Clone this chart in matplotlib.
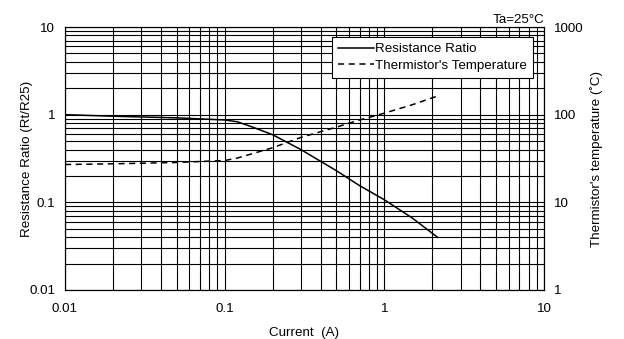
import matplotlib
matplotlib.use("Agg")
import matplotlib.pyplot as plt
from matplotlib.ticker import LogLocator, FixedLocator, NullFormatter, FixedFormatter

plt.rcParams["font.family"] = ["Liberation Sans", "DejaVu Sans"]
plt.rcParams["font.size"] = 9.6

# leitura do gráfico
corrente_r = [0.01, 0.02, 0.05, 0.1, 0.12, 0.15, 0.2, 0.3, 0.5, 0.7, 1.0, 1.5, 2.15]
razao_r = [1.0, 0.96, 0.92, 0.87, 0.83, 0.72, 0.59, 0.40, 0.23, 0.155, 0.107, 0.066, 0.04]

corrente_t = [0.01, 0.02, 0.05, 0.1, 0.12, 0.15, 0.2, 0.3, 0.5, 0.7, 1.0, 1.5, 2.15]
temp_t = [27, 27.5, 28.5, 30, 32, 36, 42, 55, 72, 87, 104, 130, 163]

fig = plt.figure(figsize=(6.24, 3.39), dpi=100)
ax = fig.add_axes([65 / 624, 1 - 290 / 339, (544 - 65) / 624, (290 - 27) / 339])

ax.plot(corrente_r, razao_r, color="black", lw=1.1, label="Resistance Ratio")
ax.set_xscale("log")
ax.set_yscale("log")
ax.set_xlim(0.01, 10)
ax.set_ylim(0.01, 10)

ax2 = ax.twinx()
ax2.plot(corrente_t, temp_t, color="black", lw=1.1, ls=(0, (4, 3)), label="Thermistor's Temperature")
ax2.set_yscale("log")
ax2.set_ylim(1, 1000)

for a in (ax, ax2):
    a.tick_params(which="both", length=0, pad=7)
    a.yaxis.set_minor_formatter(NullFormatter())
ax.tick_params(axis="x", pad=9)
ax.xaxis.set_minor_formatter(NullFormatter())

ax.xaxis.set_major_locator(FixedLocator([0.01, 0.1, 1, 10]))
ax.xaxis.set_major_formatter(FixedFormatter(["0.01", "0.1", "1", "10"]))
ax.yaxis.set_major_locator(FixedLocator([0.01, 0.1, 1, 10]))
ax.yaxis.set_major_formatter(FixedFormatter(["0.01", "0.1", "1", "10"]))
ax2.yaxis.set_major_locator(FixedLocator([1, 10, 100, 1000]))
ax2.yaxis.set_major_formatter(FixedFormatter(["1", "10", "100", "1000"]))
ax.xaxis.set_minor_locator(LogLocator(base=10, subs=range(2, 10)))
ax.yaxis.set_minor_locator(LogLocator(base=10, subs=range(2, 10)))

ax.grid(True, which="both", color="black", lw=0.8)
ax.set_axisbelow(True)
for s in list(ax.spines.values()) + list(ax2.spines.values()):
    s.set_linewidth(0.8)

ax.set_xlabel("Current  (A)", labelpad=9)
ax.set_ylabel("Resistance Ratio (Rt/R25)")
ax.yaxis.set_label_coords(-0.067, 0.5)
ax2.set_ylabel("Thermistor's temperature (˚C)")
ax2.yaxis.set_label_coords(1.096, 0.5)
ax.set_title("Ta=25°C", loc="right", fontsize=9.6, pad=3)

h1, l1 = ax.get_legend_handles_labels()
h2, l2 = ax2.get_legend_handles_labels()
leg = ax2.legend(h1 + h2, l1 + l2, loc="upper right", bbox_to_anchor=(0.977, 0.962),
                 fancybox=False, framealpha=1, edgecolor="black", handlelength=2.7,
                 handletextpad=0.1, borderpad=0.45, labelspacing=0.3, borderaxespad=0)
leg.get_frame().set_linewidth(0.8)

fig.savefig("out.png", dpi=100)
